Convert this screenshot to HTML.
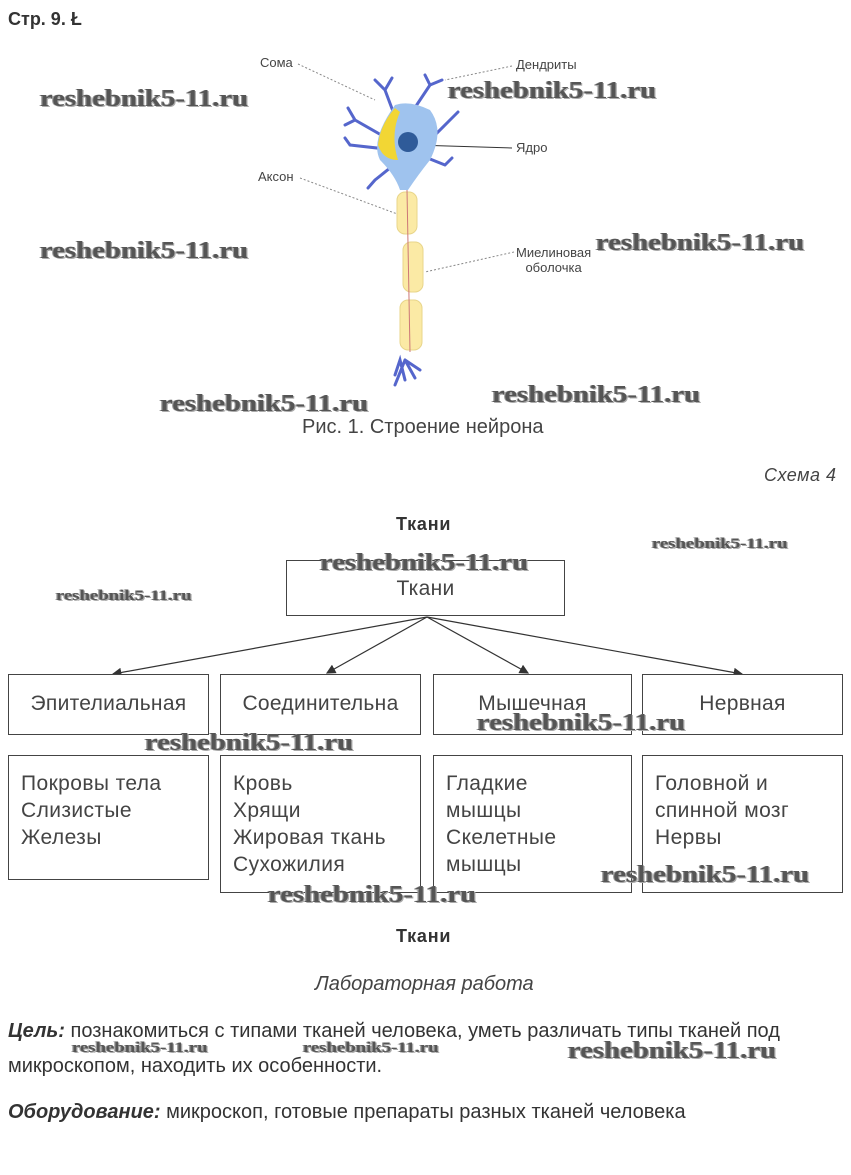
<!DOCTYPE html>
<html><head><meta charset="utf-8"><style>
body{margin:0;width:851px;height:1175px;background:#fff;position:relative;overflow:hidden;font-family:"Liberation Sans",sans-serif;color:#333}
.a{position:absolute;white-space:nowrap}
.wm{position:absolute;font-family:"Liberation Serif",serif;font-weight:bold;color:#555;text-shadow:1px 1px 0 #aaa,-1px 0 0 #999;white-space:nowrap;transform-origin:0 0}
.big{font-size:24px;transform:scaleX(1.2)}.sm{font-size:15px;transform:scaleX(1.25)}
.box{position:absolute;border:1px solid #444;box-sizing:border-box;background:#fff}
.h{font-size:21px;color:#444;text-align:center;letter-spacing:0.3px}
.l{font-size:21px;color:#444;line-height:27px;padding:14px 0 0 12px;letter-spacing:0.4px}
.lab{font-size:13px;color:#444}
</style></head><body>
<div class="a" style="left:8px;top:9px;font-size:18px;font-weight:bold;color:#333">Стр. 9. Ł</div>

<svg class="a" style="left:0;top:0" width="851" height="440">
<g stroke="#888" stroke-dasharray="2,2" fill="none" stroke-width="1">
<line x1="298" y1="64" x2="375" y2="100"/>
<line x1="512" y1="66" x2="445" y2="80"/>
<line x1="300" y1="178" x2="400" y2="215"/>
<line x1="514" y1="252" x2="425" y2="272"/>
</g>
<line x1="415" y1="145" x2="512" y2="148" stroke="#333"/>
<g stroke="#5566cc" stroke-width="3" fill="none" stroke-linecap="round">
<path d="M400 130 L385 90 M385 90 L375 80 M385 90 L392 78 M400 130 L430 85 M430 85 L425 75 M430 85 L442 80"/>
<path d="M390 140 L355 120 M355 120 L348 108 M355 120 L345 125 M395 150 L350 145 M350 145 L345 138"/>
<path d="M400 160 L375 180 M375 180 L368 188 M420 150 L450 120 M450 120 L458 112 M420 155 L445 165 M445 165 L452 158"/>
<path d="M405 380 L400 360 L395 375 M405 360 L415 378 M405 360 L395 385 M405 360 L420 370"/>
</g>
<path d="M395 105 Q410 100 430 110 Q445 130 430 160 Q418 175 408 190 L400 190 Q395 175 380 160 Q370 140 395 105Z" fill="#9fc3ee"/>
<path d="M395 108 Q380 125 378 145 Q383 160 398 160 Q390 135 400 112Z" fill="#f2d634"/>
<circle cx="408" cy="142" r="10" fill="#2f5b99"/>
<g fill="#fbeaa5" stroke="#e8d58a">
<rect x="397" y="192" width="20" height="42" rx="8"/>
<rect x="403" y="242" width="20" height="50" rx="8"/>
<rect x="400" y="300" width="22" height="50" rx="8"/>
</g>
<line x1="407" y1="190" x2="410" y2="352" stroke="#c77" stroke-width="1"/>
</svg>
<div class="a lab" style="left:260px;top:55px">Сома</div>
<div class="a lab" style="left:516px;top:57px">Дендриты</div>
<div class="a lab" style="left:516px;top:140px">Ядро</div>
<div class="a lab" style="left:258px;top:169px">Аксон</div>
<div class="a lab" style="left:516px;top:245px;line-height:15px;text-align:center">Миелиновая<br>оболочка</div>
<div class="a" style="left:302px;top:416px;font-size:20px;color:#444">Рис. 1. Строение нейрона</div>
<div class="a" style="left:764px;top:465px;font-size:18px;font-style:italic;color:#444;letter-spacing:0.5px">Схема 4</div>
<div class="a" style="left:396px;top:514px;font-size:18px;font-weight:bold;color:#333;letter-spacing:0.8px">Ткани</div>

<svg class="a" style="left:0;top:0" width="851" height="1175">
<defs><marker id="m" markerWidth="8" markerHeight="8" refX="7" refY="4" orient="auto"><path d="M0,0 L8,4 L0,8Z" fill="#333"/></marker></defs>
<g stroke="#333" stroke-width="1.2" marker-end="url(#m)">
<line x1="427" y1="617" x2="113" y2="674"/>
<line x1="427" y1="617" x2="327" y2="673"/>
<line x1="427" y1="617" x2="528" y2="673"/>
<line x1="427" y1="617" x2="742" y2="674"/>
</g></svg>
<div class="box h" style="left:286px;top:560px;width:279px;height:56px;padding-top:16px">Ткани</div>
<div class="box h" style="left:8px;top:674px;width:201px;height:61px;line-height:58px">Эпителиальная</div>
<div class="box h" style="left:220px;top:674px;width:201px;height:61px;line-height:58px">Соединительна</div>
<div class="box h" style="left:433px;top:674px;width:199px;height:61px;line-height:58px">Мышечная</div>
<div class="box h" style="left:642px;top:674px;width:201px;height:61px;line-height:58px">Нервная</div>
<div class="box l" style="left:8px;top:755px;width:201px;height:125px">Покровы тела<br>Слизистые<br>Железы</div>
<div class="box l" style="left:220px;top:755px;width:201px;height:138px">Кровь<br>Хрящи<br>Жировая ткань<br>Сухожилия</div>
<div class="box l" style="left:433px;top:755px;width:199px;height:138px">Гладкие<br>мышцы<br>Скелетные<br>мышцы</div>
<div class="box l" style="left:642px;top:755px;width:201px;height:138px">Головной и<br>спинной мозг<br>Нервы</div>

<div class="a" style="left:396px;top:926px;font-size:18px;font-weight:bold;color:#333;letter-spacing:0.8px">Ткани</div>
<div class="a" style="left:315px;top:973px;font-size:20px;font-style:italic;color:#444">Лабораторная работа</div>
<div class="a" style="left:8px;top:1019px;font-size:20px;color:#333;line-height:25px"><b><i>Цель:</i></b> познакомиться с типами тканей человека, уметь различать типы тканей под</div>
<div class="a" style="left:8px;top:1055px;font-size:20px;color:#333">микроскопом, находить их особенности.</div>
<div class="a" style="left:8px;top:1101px;font-size:20px;color:#333"><b><i>Оборудование:</i></b> микроскоп, готовые препараты разных тканей человека</div>

<div class="wm big" style="left:40px;top:86px">reshebnik5-11.ru</div>
<div class="wm big" style="left:448px;top:78px">reshebnik5-11.ru</div>
<div class="wm big" style="left:40px;top:238px">reshebnik5-11.ru</div>
<div class="wm big" style="left:596px;top:230px">reshebnik5-11.ru</div>
<div class="wm big" style="left:160px;top:391px">reshebnik5-11.ru</div>
<div class="wm big" style="left:492px;top:382px">reshebnik5-11.ru</div>
<div class="wm sm" style="left:652px;top:536px">reshebnik5-11.ru</div>
<div class="wm big" style="left:320px;top:550px">reshebnik5-11.ru</div>
<div class="wm sm" style="left:56px;top:588px">reshebnik5-11.ru</div>
<div class="wm big" style="left:477px;top:710px">reshebnik5-11.ru</div>
<div class="wm big" style="left:145px;top:730px">reshebnik5-11.ru</div>
<div class="wm big" style="left:601px;top:862px">reshebnik5-11.ru</div>
<div class="wm big" style="left:268px;top:882px">reshebnik5-11.ru</div>
<div class="wm sm" style="left:72px;top:1040px">reshebnik5-11.ru</div>
<div class="wm sm" style="left:303px;top:1040px">reshebnik5-11.ru</div>
<div class="wm big" style="left:568px;top:1038px">reshebnik5-11.ru</div>
</body></html>
